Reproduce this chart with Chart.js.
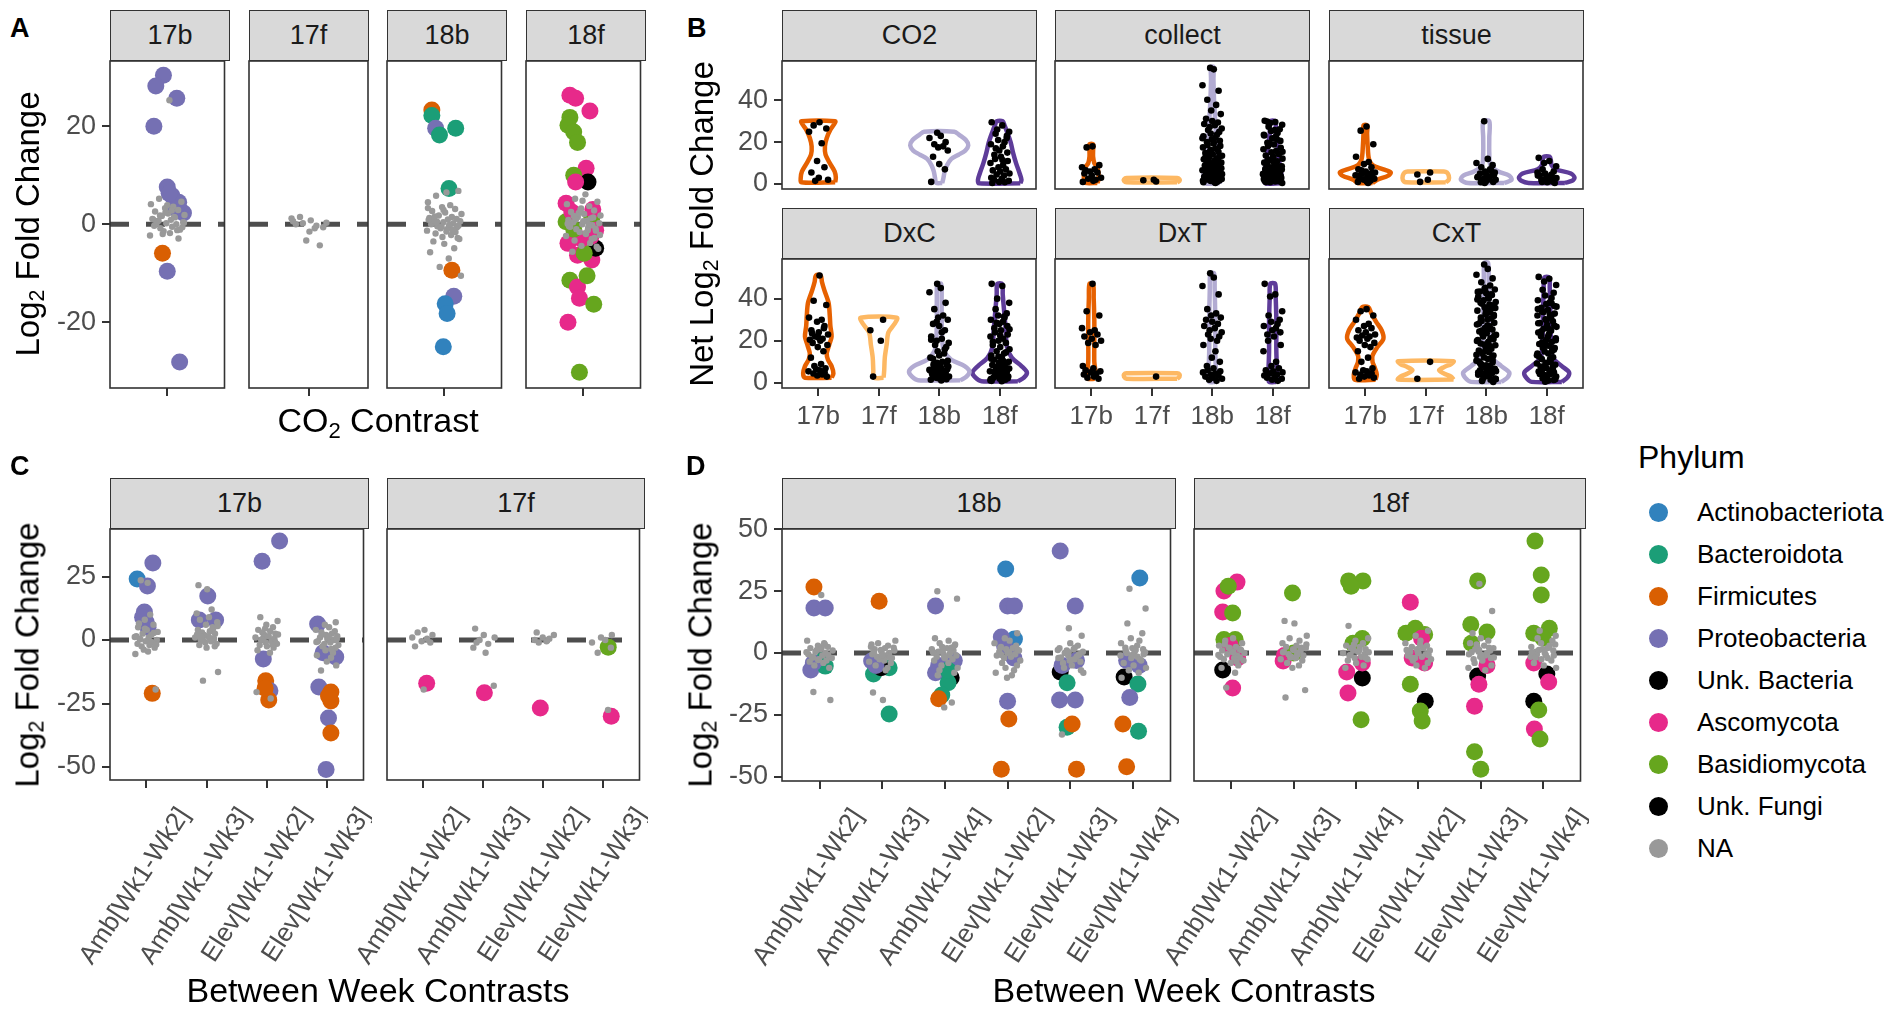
<!DOCTYPE html>
<html><head><meta charset="utf-8">
<script src="https://cdn.jsdelivr.net/npm/chart.js@4.4.1/dist/chart.umd.min.js"></script>
<style>
body{margin:0;width:1901px;height:1010px;background:#fff;position:relative;overflow:hidden;font-family:'Liberation Sans',Arial,sans-serif;color:#000}
canvas{position:absolute}
.strip{position:absolute;background:#d9d9d9;border:1.6px solid #333;box-sizing:border-box;display:flex;align-items:center;justify-content:center;font-size:27px;color:#1a1a1a}
.let{position:absolute;font-weight:bold;font-size:27px;line-height:1}
.yt{position:absolute;white-space:nowrap;font-size:33px;transform:translate(-50%,-50%) rotate(-90deg);line-height:1}
.xt{position:absolute;white-space:nowrap;font-size:34px;transform:translate(-50%,-50%);line-height:1}
sub{font-size:65%;vertical-align:-0.25em;line-height:0}
.leg{position:absolute;font-size:26px;line-height:1;white-space:nowrap}
.dot{position:absolute;width:19px;height:19px;border-radius:50%}
</style></head>
<body>
<script>
// ---------------- DATA ----------------
const facetsA = ['17b','17f','18b','18f'];
const groupsB = ['17b','17f','18b','18f'];
const facetsB = ['CO2','collect','tissue','DxC','DxT','CxT'];
const contrastsC = ['Amb[Wk1-Wk2]','Amb[Wk1-Wk3]','Elev[Wk1-Wk2]','Elev[Wk1-Wk3]'];
const contrastsD = ['Amb[Wk1-Wk2]','Amb[Wk1-Wk3]','Amb[Wk1-Wk4]','Elev[Wk1-Wk2]','Elev[Wk1-Wk3]','Elev[Wk1-Wk4]'];
const phylaCodes = ['Act','Bac','Fir','Pro','UB','Asc','Bas','UF','NA'];
const phylaNames = ['Actinobacteriota','Bacteroidota','Firmicutes','Proteobacteria','Unk. Bacteria','Ascomycota','Basidiomycota','Unk. Fungi','NA'];
const ticksA_y = [-20,0,20];
const ticksB_y = [0,20,40];
const ticksC_y = [-50,-25,0,25];
const ticksD_y = [-50,-25,0,25,50];

// Panel A : [x(category + jitter), log2FC, phylum]
const A_17b = [[0.96,30.4,'Pro'],[0.88,28.2,'Pro'],[1.10,25.7,'Pro'],[0.86,20,'Pro'],[1.00,7.6,'Pro'],[1.05,5.8,'Pro'],[1.12,4.5,'Pro'],[1.17,2.3,'Pro'],[1.09,3.2,'Pro'],[1.02,6.3,'Pro'],[0.95,-5.9,'Fir'],[1.00,-9.6,'Pro'],[1.13,-28.1,'Pro']];
const A_17f = [];
const A_18b = [[0.87,23.3,'Fir'],[0.87,22.2,'Bac'],[0.91,19.6,'Pro'],[0.95,18.2,'Bac'],[1.12,19.6,'Bac'],[1.05,7.3,'Bac'],[1.08,-9.4,'Fir'],[1.10,-14.7,'Pro'],[1.01,-16.2,'Act'],[1.03,-18.2,'Act'],[0.99,-25,'Act']];
const A_18f = [[0.86,26.3,'Asc'],[0.92,25.7,'Asc'],[1.07,23.1,'Asc'],[0.86,21.8,'Bas'],[0.84,20.2,'Bas'],[0.90,18.8,'Bas'],[0.94,16.7,'Bas'],[1.03,11.4,'Asc'],[0.90,10,'Bas'],[1.05,8.6,'UF'],[0.92,8.6,'Asc'],[0.82,4.3,'Asc'],[0.82,0.5,'Bas'],[1.09,1.4,'Bas'],[1.13,-1.2,'Asc'],[0.84,-3.9,'Asc'],[0.94,-6.3,'Asc'],[1.09,-7.3,'Asc'],[1.13,-4.9,'UF'],[1.01,-5.9,'Bas'],[0.86,-11.4,'Bas'],[0.94,-12.8,'Asc'],[0.96,-15.1,'Asc'],[1.11,-16.3,'Bas'],[0.84,-20,'Asc'],[0.96,-30.2,'Bas'],[1.04,-10.5,'Bas'],[0.88,2.5,'Asc'],[1.08,-2.5,'Asc'],[1.10,3,'Asc'],[0.98,-3,'Asc'],[0.90,-1,'Bas']];
// Panel A unassigned (NA) values per facet
const A_17b_na = [[25.3,5.2,4.6,4.1,3.6,3.3,2.9,2.6,2.2,1.9,1.7,1.4,1.1,0.9,0.6,0.4,0.2,0,-0.3,-0.5,-0.8,-1.1,-1.4,-1.8,-2.3,-2.9,0.7,1.5,2.4,-0.6,0.1,3.9,-1.2,1.0,2.8,-2.0,0.3,1.8]];
const A_17f_na = [[0.8,1.5,-0.6,1.2,-0.8,-3.3,-4.3,0,-1.5,0.3,0.2,-0.3,0.6]];
const A_18b_na = [[6.5,5.8,6.8,4.5,3.9,3.5,3.1,2.7,2.4,2.1,1.8,1.5,1.3,1.0,0.8,0.6,0.4,0.2,0,-0.2,-0.4,-0.6,-0.8,-1.0,-1.3,-1.6,-1.9,-2.2,-2.6,-3.0,-3.5,-4.0,-4.9,-5.7,-7.0,-8.7,-10.5,0.5,1.1,-0.5,-1.1,0.9,-0.1,2.9,-2.8,1.6,-1.5,0.3,-0.3,3.3]];
const A_18f_na = [[6.1,5.2,4.6,4.1,3.7,3.2,2.8,2.5,2.1,1.8,1.5,1.2,0.9,0.7,0.4,0.2,0,-0.2,-0.5,-0.7,-1.0,-1.3,-1.6,-2.0,-2.4,-2.8,-3.3,-3.8,-4.4,-5.0,-5.6,0.6,1.4,-0.4,-1.2,2.3,-2.2,1.0,-0.9,3.0,-3.0,0.1,-0.1,4.8,-4.6,1.7,-1.8]];

// Panel B : net log2 fold change per facet, per group (17b,17f,18b,18f)
const B_CO2 = [[29.5,28,26.5,25,19.5,11,8,5.5,3,2,1.5],[],[24.5,23,22,20,19,18,17.5,16,13,9.5,7,1],[29.5,28,26,25,24,22,21,20,19,18,16,15,14,13,12,11,10,9,8,7,6.5,6,5,4.5,4,3,2.5,2,1.5,1,0.8,0.5,11.5,17,23]];
const B_collect = [[18,17.5,9,8,7,6,5.5,5,4,3,2.5,2,1,1.5,6.5],[1.2,1.8,2],
 [55.5,54.8,47.2,44.6,40.3,37.8,35.1,33.4,31.2,30.1,29.4,28.7,28.1,27.2,26.5,25.8,24.9,24.1,23.6,22.8,22.1,21.4,20.7,20.1,19.3,18.6,18.2,17.5,16.9,16.2,15.4,14.8,14.1,13.5,12.9,12.2,11.8,11.1,10.6,10.2,9.7,9.3,8.8,8.4,8.1,7.7,7.3,6.9,6.6,6.2,5.9,5.5,5.2,4.8,4.5,4.1,3.8,3.4,3.1,2.7,2.4,2.1,1.7,1.4,1.1,0.8,0.5,6.4,5.7,4.3,3.6,2.9,2.2,1.5,7.9,9.1,10.8,12.6,3.3,4.7,5.4,2.5,1.9,0.9,6.8,7.5,8.6,1.2,2.8,4.0,11.5,13.2,15.7,19.8,21.9],
 [30.2,29.6,29.1,28.3,27.4,26.2,25.3,24.4,23.5,22.7,21.8,20.6,19.7,18.9,18.1,17.3,16.6,15.8,15.1,14.3,13.6,12.8,12.1,11.4,10.8,10.2,9.6,9.1,8.5,8.0,7.6,7.1,6.7,6.3,5.9,5.5,5.1,4.7,4.4,4.0,3.6,3.3,2.9,2.6,2.2,1.9,1.5,1.2,0.8,0.5,6.1,5.3,4.2,3.1,2.4,1.6,7.3,8.3,9.4,10.5,11.7,3.8,4.9,5.7,2.7,1.3,0.9,13.1,15.4,19.3,21.3,23.2,25.8,29.9,6.9,3.5]];
const B_tissue = [[27.5,25.5,19,13,10.5,9.5,8,7,6,5.5,5,4.5,4,3.5,3,2.5,2,1.5,1,0.5,6.5,3.2,2.2,1.2,4.2,5.2],[5.5,4.5,2,1],
 [30,12,10,9,8,7,6,5.5,5,4.5,4,3.5,3,2.5,2,1.5,1,0.5,6.5,3.2,2.2,1.2,4.2,0.8,2.8,1.8],
 [12.5,11,10,8.5,7,6,5,4.5,4,3.5,3,2.5,2,1.5,1,0.5,5.5,3.2,2.2,1.2,4.2,0.8,2.8,1.8,3.8]];
const B_DxC = [[51,39,37,31,30,29,27,25,24,23,22,21,20.5,20,19,18,17,15,12,9,8,7,6.5,6,5.5,5,4.5,4,3.5,3,23.5,21.5,26],[30,25,20,3],
 [47,45,43,38,35,32,31,30,28,27,25,22,21,20,19,18,17,15,14,12,10,9,8.5,8,7.5,7,6.5,6,5.5,5,4.5,4,3.5,3,2.5,2,1.5,1.2,8.8,7.8,6.8,5.8,4.8,3.8,2.8,1.8,9.6,7.2,6.2,5.2,4.2,3.2,2.2,10.5,11.5,13,16,20.5,24,29],
 [47,46,40,38,35,33,32,31,30,29,28,27,26,25,24,23,22,21,20,19,18,17,16,15,14,13,12,11,10,9.5,9,8.5,8,7.5,7,6.5,6,5.5,5,4.5,4,3.5,3,2.5,2,1.5,1,8.8,7.8,6.8,5.8,4.8,3.8,2.8,1.8,9.2,7.2,6.2,5.2,4.2,3.2,2.2,1.2,10.5,12.5,14.5,19.5,22.5,25.5,28.5,31.5,11.5,0.8]];
const B_DxT = [[47,34,32,26,25,24,23,22,21,20,19,18,8,7,6,5.5,5,4.5,4,3,2.5,2],[3],
 [52,50,46,42,35,33,32,31,30,29,28,27,26,25,24,23,22,21,20,18,15,12,10,8,7,6,5.5,5,4.5,4,3.5,3,2.5,2,1.5,1],
 [47,42,41,34,32,30,29,28,27,26,25,24,23,22,20,18,15,10,8,7,6,5.5,5,4.5,4,3.5,3,2.5,2,1.5,1]];
const B_CxT = [[35,34,32,30,28,27,26,25,24,23,22.5,22,21.5,21,20,19,18,17,15,12,10,7,6,5.5,5,4.5,4,3.5,3,2.5,2],[10,2],
 [56.2,54.1,51.3,49.6,47.8,46.2,45.1,44.3,43.4,42.6,41.7,40.9,40.1,39.2,38.4,37.6,36.8,35.9,35.1,34.3,33.5,32.6,31.8,31.0,30.2,29.4,28.5,27.7,26.9,26.1,25.3,24.4,23.6,22.8,22.0,21.2,20.3,19.5,18.7,17.9,17.1,16.2,15.4,14.6,13.8,13.0,12.1,11.3,10.5,9.7,8.9,8.1,7.4,6.7,6.0,5.3,4.6,3.9,3.2,2.5,1.8,1.1,0.5,44.7,42.1,39.6,37.2,34.7,32.2,29.8,27.3,24.9,22.4,19.9,17.5,15.0,12.6,10.1,7.7,5.6,3.6,1.5,43.2,40.5,38.0,35.5,33.0,30.6,28.1,25.6,23.2,20.7,18.2,15.8,13.3,10.9,8.5,6.3,4.2,2.1,9.3,8.4,6.5,4.9,3.4,2.8,1.9,0.9],
 [50.3,49.4,48.1,46.5,44.2,42.8,41.5,40.3,39.2,38.3,37.4,36.5,35.6,34.7,33.8,32.9,32.0,31.1,30.2,29.3,28.4,27.5,26.6,25.7,24.8,23.9,23.0,22.1,21.2,20.3,19.4,18.5,17.6,16.7,15.8,14.9,14.0,13.1,12.2,11.3,10.4,9.5,8.6,7.8,7.0,6.2,5.4,4.6,3.8,3.0,2.2,1.4,0.6,37.8,35.1,32.5,29.8,27.2,24.5,21.9,19.2,16.6,13.9,11.3,8.9,6.6,4.3,2.0,36.2,33.6,30.9,28.3,25.6,23.0,20.3,17.7,15.0,12.4,9.9,7.4,5.1,2.8,1.1,9.2,8.2,5.8,4.1,3.3,1.7]];
// Panel B violin outlines: [value, half-width of density]
const V_CO2 = [[[0.8,0.28],[3,0.29],[6,0.27],[10,0.19],[14,0.12],[18,0.11],[22,0.14],[26,0.2],[28.5,0.26],[30,0.28]],null,
 [[0.5,0.05],[3,0.07],[6,0.09],[9,0.13],[12,0.2],[14,0.32],[16,0.43],[18.5,0.48],[21,0.44],[23.5,0.33],[25,0.25]],
 [[0.3,0.34],[2,0.36],[5,0.33],[10,0.27],[15,0.22],[20,0.18],[25,0.12],[28,0.08],[30,0.05]]];
const V_collect = [[[0.5,0.1],[2,0.12],[5,0.12],[8,0.1],[10,0.05],[13,0.03],[16,0.03],[19,0.03]],
 [[0.8,0.42],[1.5,0.46],[2.2,0.46],[2.9,0.42]],
 [[0.3,0.12],[3,0.15],[7,0.13],[12,0.09],[20,0.07],[30,0.05],[40,0.03],[50,0.02],[56,0.02]],
 [[0.3,0.12],[3,0.15],[7,0.13],[12,0.1],[18,0.08],[24,0.05],[30,0.04]]];
const V_tissue = [[[0.5,0.12],[2,0.2],[4,0.38],[5.5,0.42],[7,0.3],[9,0.12],[12,0.06],[18,0.04],[24,0.03],[28,0.03]],
 [[0.8,0.33],[2,0.38],[4,0.38],[5.5,0.35],[6,0.3]],
 [[0.5,0.3],[2,0.42],[4,0.38],[6,0.2],[9,0.07],[15,0.05],[22,0.05],[30,0.05]],
 [[0.5,0.3],[1.5,0.42],[3,0.46],[5,0.4],[7,0.15],[9,0.08],[11,0.07],[13,0.05]]];
const V_DxC = [[[2.5,0.22],[4.5,0.25],[8,0.22],[11,0.16],[14,0.14],[18,0.18],[22,0.22],[27,0.2],[32,0.19],[38,0.17],[44,0.1],[48,0.06],[51,0.04]],
 [[2.5,0.08],[6,0.09],[12,0.1],[18,0.13],[24,0.16],[28,0.26],[31,0.3]],
 [[1.3,0.35],[3,0.45],[5.5,0.5],[8,0.42],[11,0.2],[15,0.08],[20,0.05],[30,0.04],[40,0.04],[47,0.03]],
 [[0.8,0.3],[2.5,0.4],[5,0.45],[8,0.36],[12,0.2],[17,0.12],[25,0.1],[35,0.07],[42,0.05],[47,0.04]]];
const V_DxT = [[[2,0.06],[5,0.07],[10,0.05],[20,0.05],[30,0.05],[40,0.04],[47,0.03]],
 [[2,0.42],[3,0.46],[4,0.46],[4.6,0.42]],
 [[0.5,0.05],[5,0.06],[15,0.05],[30,0.05],[45,0.04],[52,0.03]],
 [[0.5,0.06],[5,0.07],[15,0.06],[30,0.06],[40,0.05],[47,0.04]]];
const V_CxT = [[[1.5,0.17],[4,0.19],[7,0.16],[10,0.12],[13,0.12],[17,0.2],[21,0.3],[25,0.27],[29,0.18],[33,0.1],[36,0.05]],
 [[1.6,0.46],[3,0.42],[4.5,0.3],[6,0.22],[7.5,0.3],[9,0.42],[10.3,0.46]],
 [[0.5,0.25],[2.5,0.35],[5,0.38],[8,0.25],[12,0.1],[20,0.06],[35,0.05],[50,0.04],[57,0.03]],
 [[0.5,0.25],[2.5,0.34],[5,0.37],[8,0.25],[12,0.1],[20,0.07],[35,0.06],[45,0.05],[50,0.04]]];

// Panel C
const C_17b = [[0.85,24,'Act'],[1.11,30.3,'Pro'],[1.02,21.3,'Pro'],[0.97,11,'Pro'],[1.0,7,'Pro'],[0.94,9,'Pro'],[1.03,5,'Pro'],[1.10,-21,'Fir'],
 [2.02,17.3,'Pro'],[2.15,7.9,'Pro'],[1.88,7.9,'Pro'],
 [3.21,39,'Pro'],[2.92,31,'Pro'],[2.94,-7.5,'Pro'],[2.98,-16,'Fir'],[3.05,-20,'Pro'],[3.03,-23.6,'Fir'],[2.97,-19,'Fir'],
 [3.84,6.3,'Pro'],[4.14,-6.7,'Pro'],[3.93,-5,'Pro'],[3.86,-18.5,'Pro'],[4.06,-20.5,'Fir'],[4.06,-24,'Fir'],[4.02,-22,'Fir'],[4.02,-30.7,'Pro'],[4.06,-36.6,'Fir'],[3.98,-51,'Pro']];
const C_17f = [[1.06,-17,'Asc'],[2.02,-20.8,'Asc'],[2.95,-26.8,'Asc'],[4.08,-2.8,'Bas'],[4.13,-30,'Asc']];
const C_17b_na = [[22.5,23.5,-19.5,-5.5,10,8,6,5,4,3.2,2.5,2,1.5,1,0.5,0,-0.5,-1,-1.5,-2,-2.5,-3,-3.8,-4.5,1.2,2.8,0.3,-0.8,4.5,-1.8,6.5],
 [21.6,20,-12.6,-16,12,10.5,9,8,7,6,5,4,3.5,3,2.5,2,1.5,1,0.5,0,-0.5,-1,-1.5,-2,-3,4.5,2.2,0.8,-0.3,5.5,1.3,-2.5],
 [9,7.5,6,5,4,3.5,3,2.5,2,1.5,1,0.5,0,-0.5,-1,-1.5,-2,-2.5,-3,-4,-5,1.2,2.2,0.3,-0.8,4.5,-1.8,-20.5,-23],
 [7,6,5,4,3.5,3,2.5,2,1.5,1,0.5,0,-0.5,-1,-1.5,-2,-2.5,-3,-4,-5,-6,-7,-8.5,-10,-12,1.2,2.2,0.3,-0.8,-3.5]];
const C_17f_na = [[4,3,2,1,0.5,-0.5,-1,-2.5,-19.5],[4.5,2,1,0,-1.5,-3,-5,-1,-18],[3,2,1,0.5,0,-0.5,-1],[2,1,0,-1,-3,-5,-27.5]];

// Panel D
const D_18b = [[0.91,26.7,'Fir'],[0.91,18.2,'Pro'],[1.09,18.2,'Pro'],[0.86,-6.9,'Pro'],[1.09,-5.3,'Bac'],[1.05,-3,'Bac'],[0.9,-4,'Pro'],
 [1.95,21,'Fir'],[1.83,-3.2,'Pro'],[1.86,-8.5,'Bac'],[2.11,-6,'Bac'],[1.98,-6,'UB'],[2.11,-24.7,'Bac'],[1.9,-5,'Pro'],
 [2.85,19,'Pro'],[2.9,-5,'Pro'],[2.85,-8,'Pro'],[3.1,-10,'UB'],[3.05,-12,'Bac'],[2.95,-17,'Bac'],[2.9,-18.5,'Fir'],[3.15,-3,'Pro'],[3.05,-7,'Bac'],
 [3.97,34,'Act'],[4.0,19,'Pro'],[4.11,19,'Pro'],[4.11,5.7,'Act'],[3.9,6.5,'Pro'],[3.95,3,'Pro'],[4.1,-2,'Pro'],[4.0,-19.5,'Pro'],[4.02,-26.7,'Fir'],[3.9,-47,'Fir'],
 [4.84,41.3,'Pro'],[5.08,19,'Pro'],[4.84,-7.7,'UB'],[4.87,-5,'Pro'],[5.1,-3,'Pro'],[4.83,-19,'Pro'],[5.08,-19,'Pro'],[4.95,-30,'Bac'],[5.03,-28.7,'Fir'],[5.1,-47,'Fir'],[4.95,-12,'Bac'],
 [6.11,30.4,'Act'],[5.86,-9.7,'UB'],[6.08,-12.5,'Bac'],[5.95,-18,'Pro'],[6.1,-5,'Pro'],[5.9,-3,'Pro'],[5.84,-28.7,'Fir'],[6.09,-31.7,'Bac'],[5.9,-46,'Fir']];
const D_18f = [[1.09,28.7,'Asc'],[0.88,25.1,'Asc'],[0.95,27,'Bas'],[0.86,16.6,'Asc'],[1.02,16.2,'Bas'],[0.88,5.5,'Bas'],[1.06,5.5,'Bas'],[0.98,3,'Asc'],[1.1,-2,'Asc'],[0.86,-6.9,'UF'],[1.02,-14.2,'Asc'],
 [1.98,24.3,'Bas'],[1.83,-3.2,'Asc'],[1.85,-1,'Asc'],[2.0,0,'Bas'],
 [2.88,29.2,'Bas'],[3.11,29.2,'Bas'],[2.92,27,'Bas'],[3.1,5.9,'Bas'],[2.95,4,'Bas'],[2.85,-7.7,'Asc'],[3.1,-10.1,'UF'],[2.87,-16.2,'Asc'],[3.08,-27,'Bas'],[3.1,-4,'Asc'],
 [3.87,20.6,'Asc'],[3.95,10,'Bas'],[3.8,8,'Bas'],[4.1,7.5,'Bas'],[4.05,6,'Asc'],[3.9,-2,'Asc'],[3.87,-12.6,'Bas'],[4.11,-19.5,'UF'],[4.03,-23.5,'Bas'],[4.06,-27.5,'Bas'],[4.1,-4,'Asc'],
 [4.95,29.2,'Bas'],[4.84,11.5,'Bas'],[5.1,8.5,'Bas'],[4.85,4,'Bas'],[4.95,-9.3,'UF'],[4.97,-12.6,'Asc'],[5.1,-5,'Asc'],[4.9,-21.5,'Asc'],[4.9,-40,'Bas'],[5.0,-47,'Bas'],
 [5.87,45.3,'Bas'],[5.97,31.6,'Bas'],[5.97,23.5,'Bas'],[5.85,8,'Bas'],[6.1,10,'Bas'],[6.0,6,'Bas'],[6.06,-8.5,'UF'],[6.09,-11.7,'Asc'],[5.85,-4,'Asc'],[5.85,-19.5,'UF'],[5.93,-23.1,'Bas'],[5.86,-30.8,'Asc'],[5.95,-34.8,'Bas']];
const D_18b_na = [[23.5,-15.8,-19,5,4,3,2.5,2,1.5,1,0.5,0,-0.5,-1,-1.5,-2,-2.5,-3,-3.5,-4,-5,-6,1.2,2.2,0.3,-0.8,-1.8,3.5,-2.8],
 [-16,-19,5,4,3,2.5,2,1.5,1,0.5,0,-0.5,-1,-1.5,-2,-2.5,-3,-3.5,-4,-5,-6,1.2,2.2,0.3,-0.8,-1.8,3.5,-7],
 [25,22,-22,-20,6,5,4,3,2.5,2,1.5,1,0.5,0,-0.5,-1,-1.5,-2,-2.5,-3,-4,-5,-6,-7,-8,1.2,2.2,0.3,-0.8,-1.8,3.5,-9],
 [8,6,5,4,3,2.5,2,1.5,1,0.5,0,-0.5,-1,-1.5,-2,-3,-4,-5,-6,-7,-8,-9,-10,1.2,2.2,0.3,-0.8],
 [10,7,-33,4,3,2,1.5,1,0.5,0,-0.5,-1,-1.5,-2,-2.5,-3,-3.5,-4,-5,-6,-7,1.2,2.2,0.3,-0.8,-1.8,-2.8,-8],
 [26,18,12,8,6,5,4,3,2,1.5,1,0.5,0,-0.5,-1,-1.5,-2,-3,-4,-5,-6,-7,-8,-10,1.2,2.2,0.3,-0.8,-2.5]];
const D_18f_na = [[6,5,4,3,2.5,2,1.5,1,0.5,0,-0.5,-1,-1.5,-2,-2.5,-3,-4,-5,-6,-8,-14,1.2,2.2,0.3,-0.8,-1.8,3.5,-3.5],
 [13,12,7,6,5,4,3,2.5,2,1.5,1,0.5,0,-0.5,-1,-1.5,-2,-2.5,-3,-4,-5,-6,-15,-18,1.2,2.2,0.3,-0.8,-1.8,3.5],
 [11,6,5,4,3,2.5,2,1.5,1,0.5,0,-0.5,-1,-1.5,-2,-2.5,-3,-4,-5,-6,1.2,2.2,0.3,-0.8,-1.8,3.5],
 [9,7,5,4,3,2.5,2,1.5,1,0.5,0,-0.5,-1,-1.5,-2,-2.5,-3,-4,-5,-6,1.2,2.2,0.3,-0.8,-1.8,3.5],
 [28,17,8,6,5,4,3,2.5,2,1.5,1,0.5,0,-0.5,-1,-1.5,-2,-2.5,-3,-4,-5,-6,-7,1.2,2.2,0.3,-0.8,-1.8,3.5],
 [9,7,6,5,4,3,2.5,2,1.5,1,0.5,0,-0.5,-1,-1.5,-2,-2.5,-3,-4,-5,-6,1.2,2.2,0.3,-0.8,-1.8,3.5]];

// ---------------- STYLE / LAYOUT ----------------
const FONT = "'Liberation Sans', Arial, sans-serif";
const COL = {Act:'#3182BD',Bac:'#1B9E77',Fir:'#D95F02',Pro:'#7570B3',UB:'#000000',Asc:'#E7298A',Bas:'#66A61E',UF:'#000000',NA:'#999999'};
const VCOL = ['#E66101','#FDB863','#B2ABD2','#5E3C99'];
// horizontal jitter offsets (positions only, fraction of spread)
const JIT = [0.12,-0.45,0.78,-0.9,0.33,-0.12,0.6,-0.67,0.05,0.95,-0.3,0.42,-0.82,0.2,-0.55,0.88,-0.05,0.5,-0.72,0.27,-0.38,0.7,-0.2,0.15,-0.95,0.62,-0.48,0.38,-0.1,0.83,-0.6,0.0,0.55,-0.78,0.25,-0.25,0.92,-0.4,0.68,-0.15,0.47,-0.86,0.31,-0.04,0.74,-0.52];

const borderPlugin = {id:'pborder', afterDraw(chart){const {ctx,chartArea:a}=chart;ctx.save();ctx.strokeStyle='#333';ctx.lineWidth=1.6;ctx.strokeRect(a.left,a.top,a.right-a.left,a.bottom-a.top);ctx.restore();}};

function el(cls, html, style){const d=document.createElement('div');d.className=cls;d.innerHTML=html;Object.assign(d.style,style);document.body.appendChild(d);return d;}
function strip(x,y,w,h,t){el('strip',t,{left:x+'px',top:y+'px',width:w+'px',height:h+'px'});}

function panel(c){
  const L=95, PAD=3, PV=18, B=c.xAxis?c.xh:0;
  const cv=document.createElement('canvas');
  const W=L+c.w+PAD*2, H=c.h+B+PV*2;
  cv.width=W;cv.height=H;
  Object.assign(cv.style,{left:(c.x-L-PAD)+'px',top:(c.y-PV)+'px',width:W+'px',height:H+'px'});
  document.body.appendChild(cv);
  const tickGrid={display:true,drawOnChartArea:false,drawTicks:true,tickLength:8,tickWidth:2,tickColor:'#333',color:'#333',lineWidth:2};
  new Chart(cv,{type:'scatter',data:{datasets:c.datasets},
    options:{responsive:false,animation:false,devicePixelRatio:1,events:[],
      layout:{padding:{left:PAD+(c.yt?0:L),right:PAD,top:PV,bottom:PV}},
      plugins:{legend:{display:false},tooltip:{enabled:false}},
      scales:{
        x:{type:'linear',min:c.xr[0],max:c.xr[1],display:!!c.xAxis,grid:tickGrid,border:{display:false},
           afterBuildTicks:s=>{s.ticks=c.xt.map(v=>({value:v}));},
           afterFit:s=>{if(c.xAxis){s.height=B;} s.paddingLeft=0;s.paddingRight=0;s.paddingTop=0;s.paddingBottom=0;},
           ticks:{display:!!c.xl,autoSkip:false,maxRotation:c.rot||0,minRotation:c.rot||0,color:'#4d4d4d',padding:c.rot?14:5,
             labelOffset:c.lo||0,font:{size:26,family:FONT},callback:v=>c.xl?c.xl[Math.round(v)-1]:''}},
        y:{type:'linear',min:c.yr[0],max:c.yr[1],display:!!c.yt,grid:tickGrid,border:{display:false},
           afterBuildTicks:s=>{s.ticks=(c.yt||[]).map(v=>({value:v}));},
           afterFit:s=>{if(c.yt){s.width=L;} s.paddingTop=0;s.paddingBottom=0;s.paddingLeft=0;s.paddingRight=0;},
           ticks:{color:'#4d4d4d',padding:6,font:{size:27,family:FONT}}}
      }},plugins:[borderPlugin]});
}

function hline(xr){return {data:[{x:xr[0],y:0},{x:xr[1],y:0}],showLine:true,borderColor:'#4d4d4d',borderWidth:5,borderDash:[19,17],pointRadius:0,order:100};}
function colored(arr){return {data:arr.map(p=>({x:p[0],y:p[1]})),pointRadius:8.5,pointBackgroundColor:arr.map(p=>COL[p[2]]),pointBorderWidth:0,order:50};}
function naSet(clouds,spread,r){const d=[];clouds.forEach((ys,ci)=>ys.forEach((y,i)=>d.push({x:ci+1+JIT[(i+ci*7)%JIT.length]*spread,y})));
  return {data:d,pointRadius:r,pointBackgroundColor:COL.NA,pointBorderWidth:0,order:10};}
function violinSet(shape,cat,col){
  const right=shape.map(([y,w])=>({x:cat+w,y})); const left=shape.slice().reverse().map(([y,w])=>({x:cat-w,y}));
  const d=right.concat(left);d.push(right[0]);
  return {data:d,showLine:true,borderColor:col,borderWidth:4.5,pointRadius:0,tension:0.3,borderJoinStyle:'round',order:50};}
function bPoints(groups,spread){const d=[];groups.forEach((ys,gi)=>ys.forEach((y,i)=>d.push({x:gi+1+JIT[(i+gi*11)%JIT.length]*spread,y})));
  return {data:d,pointRadius:3.3,pointBackgroundColor:'#000',pointBorderWidth:0,order:10};}

// ---------- Panel A ----------
const A_x=[110,248.5,387,526], A_w=120, A_top=61, A_h=327, A_yr=[-33.4,33.3];
const A_col=[A_17b,A_17f,A_18b,A_18f], A_na=[A_17b_na,A_17f_na,A_18b_na,A_18f_na];
facetsA.forEach((f,i)=>{
  strip(A_x[i],10,A_w,51,f);
  panel({x:A_x[i],y:A_top,w:A_w,h:A_h,xr:[0.4,1.6],yr:A_yr,xt:[1],xl:null,xAxis:true,xh:12,yt:i===0?ticksA_y:null,
    datasets:[hline([0.4,1.6]),colored(A_col[i]),naSet(A_na[i],0.19,3.2)]});
});
el('let','A',{left:'10px',top:'15px'});
el('yt','Log<sub>2</sub> Fold Change',{left:'27px',top:'224px'});
el('xt','CO<sub>2</sub> Contrast',{left:'378px',top:'420px'});

// ---------- Panel B ----------
const B_x=[782,1055,1329], B_w=255, B_rows=[{s:10,y:61,h:128},{s:208,y:259,h:129}], B_yr=[-2.4,58.8];
const B_data=[B_CO2,B_collect,B_tissue,B_DxC,B_DxT,B_CxT], B_vio=[V_CO2,V_collect,V_tissue,V_DxC,V_DxT,V_CxT];
facetsB.forEach((f,i)=>{
  const col=i%3,row=Math.floor(i/3),R=B_rows[row];
  strip(B_x[col],R.s,B_w,51,f);
  const sets=[];
  B_vio[i].forEach((sh,g)=>{if(sh)sets.push(violinSet(sh,g+1,VCOL[g]));});
  sets.push(bPoints(B_data[i],0.17));
  panel({x:B_x[col],y:R.y,w:B_w,h:R.h,xr:[0.4,4.6],yr:B_yr,xt:[1,2,3,4],xl:row===1?groupsB:null,xAxis:row===1,xh:44,
    yt:col===0?ticksB_y:null,datasets:sets});
});
el('let','B',{left:'687px',top:'15px'});
el('yt','Net Log<sub>2</sub> Fold Change',{left:'701px',top:'224px'});

// ---------- Panel C ----------
const C_x=[110,387], C_w=[259,258], C_yr=[-55.1,43.7];
[['17b',C_17b,C_17b_na],['17f',C_17f,C_17f_na]].forEach(([f,cp,na],i)=>{
  strip(C_x[i],478,C_w[i],51,f);
  panel({x:C_x[i],y:529,w:C_w[i],h:251,xr:[0.4,4.6],yr:C_yr,xt:[1,2,3,4],xl:contrastsC,xAxis:true,xh:240,rot:57,lo:38,
    yt:i===0?ticksC_y:null,datasets:[hline([0.4,4.6]),colored(cp),naSet(na,0.2,3.2)]});
});
el('let','C',{left:'10px',top:'453px'});
el('yt','Log<sub>2</sub> Fold Change',{left:'27px',top:'655px'});
el('xt','Between Week Contrasts',{left:'378px',top:'990px'});

// ---------- Panel D ----------
const D_x=[782,1194], D_w=[394,392], D_yr=[-51.8,50.2];
[['18b',D_18b,D_18b_na],['18f',D_18f,D_18f_na]].forEach(([f,cp,na],i)=>{
  strip(D_x[i],478,D_w[i],51,f);
  panel({x:D_x[i],y:529,w:D_w[i],h:252,xr:[0.4,6.6],yr:D_yr,xt:[1,2,3,4,5,6],xl:contrastsD,xAxis:true,xh:240,rot:57,lo:38,
    yt:i===0?ticksD_y:null,datasets:[hline([0.4,6.6]),colored(cp),naSet(na,0.22,3.2)]});
});
el('let','D',{left:'686px',top:'453px'});
el('yt','Log<sub>2</sub> Fold Change',{left:'700px',top:'655px'});
el('xt','Between Week Contrasts',{left:'1184px',top:'990px'});

// ---------- Legend ----------
el('leg','Phylum',{left:'1638px',top:'441px',fontSize:'32px'});
phylaNames.forEach((n,i)=>{
  const cy=512+42*i;
  el('dot','',{left:(1658-9.5)+'px',top:(cy-9.5)+'px',background:COL[phylaCodes[i]]});
  el('leg',n,{left:'1697px',top:(cy-13)+'px'});
});
</script>
</body></html>
